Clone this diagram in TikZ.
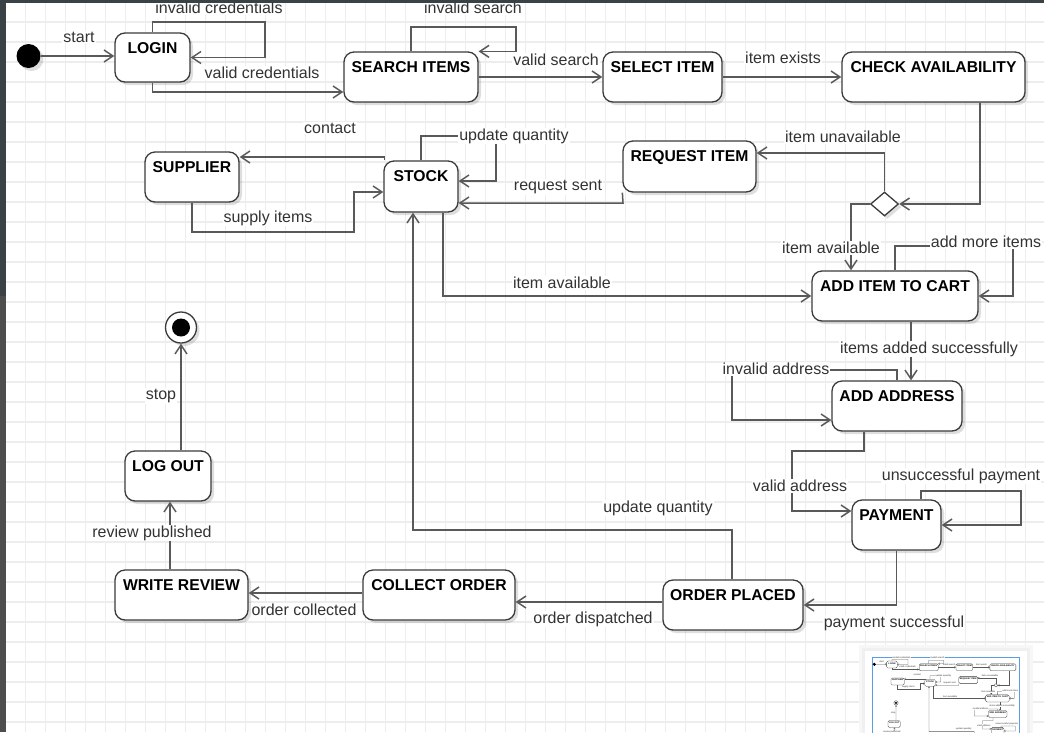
\documentclass[tikz,border=0pt]{standalone}
\usepackage{fontspec}
\setmainfont{Liberation Sans}
\usetikzlibrary{arrows.meta,shapes.geometric,shadows}

\definecolor{edgecol}{HTML}{595959}
\definecolor{statedraw}{HTML}{3B3B3B}
\definecolor{labelcol}{HTML}{333333}
\definecolor{gridcol}{HTML}{EDEDED}
\definecolor{uiframe}{HTML}{3A4246}
\definecolor{uiframelow}{HTML}{4D4D4D}
\definecolor{viewblue}{HTML}{5A9BEA}

% line widths and arrow size, redefined locally for the overview panel
\newcommand\statelw{1.3pt}
\newcommand\edgelw{1.5pt}
\newcommand\arrowlen{9pt}
\newcommand\arrowwid{12pt}

\tikzset{
  stateshadow/.style={drop shadow={shadow xshift=3pt,shadow yshift=-3pt,opacity=0.13,fill=black}},
  state/.style={draw=statedraw, line width=\statelw, fill=white, rounded corners=10pt,
                inner sep=0pt, stateshadow},
  choice/.style={diamond, draw=statedraw, line width=\statelw, fill=white, inner sep=0pt, stateshadow},
  startdot/.style={circle, fill=black, minimum size=24pt, inner sep=0pt, stateshadow},
  endring/.style={circle, draw=statedraw, line width=\statelw, fill=white, minimum size=31pt,
                  inner sep=0pt, stateshadow},
  title/.style={anchor=base, yshift=-21.5pt, inner sep=0pt, text=black,
                font=\bfseries\fontsize{15.7}{18}\selectfont},
  edge/.style={draw=edgecol, line width=\edgelw,
               -{Straight Barb[length=\arrowlen,width=\arrowwid,line width=\edgelw]}},
  lbl/.style={fill=white, inner sep=1pt, text=labelcol, font=\fontsize{16}{19}\selectfont},
  gridline/.style={draw=gridcol, line width=1.6pt},
}

% the whole state chart, drawn once full size and once in the overview panel
\newcommand\statechart{%
  % states
  \node[startdot] (init) at (28.5,56) {};
  \node[state, minimum width=75pt, minimum height=49pt, label={[title]north:LOGIN}] (login) at (152.5,57.5) {};
  \node[state, minimum width=134pt, minimum height=50pt, label={[title]north:SEARCH ITEMS}] (search) at (411,77) {};
  \node[state, minimum width=119pt, minimum height=50pt, label={[title]north:SELECT ITEM}] (select) at (662.5,77) {};
  \node[state, minimum width=183pt, minimum height=50pt, label={[title]north:CHECK AVAILABILITY}] (check) at (933.5,77) {};
  \node[state, minimum width=94pt, minimum height=50pt, label={[title]north:SUPPLIER}] (supplier) at (192,177) {};
  \node[state, minimum width=74pt, minimum height=51pt, label={[title]north:STOCK}] (stock) at (421,186.5) {};
  \node[state, minimum width=133pt, minimum height=51pt, label={[title]north:REQUEST ITEM}] (request) at (689.5,166.5) {};
  \node[choice, minimum width=28pt, minimum height=24pt] (dec) at (884.5,204) {};
  \node[state, minimum width=166pt, minimum height=50pt, label={[title]north:ADD ITEM TO CART}] (cart) at (895,296) {};
  \node[state, minimum width=130pt, minimum height=50pt, label={[title]north:ADD ADDRESS}] (address) at (897,406) {};
  \node[state, minimum width=89pt, minimum height=50pt, label={[title]north:PAYMENT}] (payment) at (896.5,525) {};
  \node[state, minimum width=140pt, minimum height=50pt, label={[title]north:ORDER PLACED}] (order) at (733,605) {};
  \node[state, minimum width=152pt, minimum height=50pt, label={[title]north:COLLECT ORDER}] (collect) at (439,595) {};
  \node[state, minimum width=133pt, minimum height=50pt, label={[title]north:WRITE REVIEW}] (review) at (181.5,595) {};
  \node[state, minimum width=86pt, minimum height=50pt, label={[title]north:LOG OUT}] (logout) at (168,476) {};
  \node[endring] (final) at (181,327.5) {};
  \fill[black] (final.center) circle[radius=9];
  % transitions
  \draw[edge] (init) -- (login.west |- init);
  \draw[edge] (login.north) -- (152.5,22) -- (265,22) |- (login.east);
  \draw[edge] (login.south) |- ([yshift=-15pt]search.west);
  \draw[edge] (search.north) -- (411,27) -- (516,27) |- (search.north east);
  \draw[edge] (search.east) -- (select.west);
  \draw[edge] (select.east) -- (check.west);
  \draw[edge] ([xshift=46.5pt]check.south) |- (dec.east);
  \draw[edge] (dec.north) |- ([yshift=13.5pt]request.east);
  \draw[edge] (dec.west) -| ([xshift=-44pt]cart.north);
  \draw[edge] (request.south west) -- (623,203) -- ([yshift=-16.5pt]stock.east);
  \draw[edge] (stock.north) -- (421,136) -- (496,136) |- ([yshift=5.5pt]stock.east);
  \draw[edge] ([xshift=1pt]stock.north west) |- ([yshift=20pt]supplier.east);
  \draw[edge] (supplier.south) |- (354,232) |- ([yshift=-5.5pt]stock.west);
  \draw[edge] ([xshift=22pt]stock.south) |- (cart.west);
  \draw[edge] (cart.north) -- (895,246) -- (1013,246) |- (cart.east);
  \draw[edge] ([xshift=16pt]cart.south) -- ([xshift=14pt]address.north);
  \draw[edge] (address.north) -- (897,370) -- (732,370) |- ([yshift=-14pt]address.west);
  \draw[edge] ([xshift=-33pt]address.south) -- (864,451) -- (792,451) |- ([yshift=14pt]payment.west);
  \draw[edge] ([xshift=24.5pt]payment.north) -- (921,491) -- (1021,491) |- (payment.east);
  \draw[edge] (payment.south) |- (order.east);
  \draw[edge] ([xshift=-1pt]order.north) |- (413,530) -- ([xshift=-8pt]stock.south);
  \draw[edge] ([yshift=3pt]order.west) -- ([yshift=-7pt]collect.east);
  \draw[edge] ([yshift=2pt]collect.west) -- ([yshift=2pt]review.east);
  \draw[edge] ([xshift=-11.5pt]review.north) -- ([xshift=2pt]logout.south);
  \draw[edge] ([xshift=13pt]logout.north) -- (final);
  % transition labels
  \node[lbl] (t-start) at (79,37) {start};
  \node[lbl] (t-invcred) at (219,8) {invalid credentials};
  \node[lbl] (t-valcred) at (262,73) {valid credentials};
  \node[lbl] (t-invsearch) at (473,8) {invalid search};
  \node[lbl] (t-valsearch) at (556,60) {valid search};
  \node[lbl] (t-exists) at (783,58) {item exists};
  \node[lbl] (t-contact) at (330,128) {contact};
  \node[lbl] (t-updq1) at (514,136) {update quantity};
  \node[lbl] (t-supply) at (268,218) {supply items};
  \node[lbl] (t-unavail) at (843,137) {item unavailable};
  \node[lbl] (t-reqsent) at (558,187) {request sent};
  \node[lbl] (t-avail1) at (831,248) {item available};
  \node[lbl] (t-more) at (986,242) {add more items};
  \node[lbl] (t-avail2) at (562,283) {item available};
  \node[lbl] (t-added) at (929,349) {items added successfully};
  \node[lbl] (t-invaddr) at (776,369) {invalid address};
  \node[lbl] (t-valaddr) at (800,486) {valid address};
  \node[lbl] (t-unsucc) at (961,476) {unsuccessful payment};
  \node[lbl] (t-updq2) at (658,508) {update quantity};
  \node[lbl] (t-paysucc) at (894,623) {payment successful};
  \node[lbl] (t-dispatch) at (593,619) {order dispatched};
  \node[lbl] (t-collected) at (304,610) {order collected};
  \node[lbl] (t-published) at (152,533) {review published};
  \node[lbl] (t-stop) at (161,396) {stop};
}

\begin{document}
\begin{tikzpicture}[x=1pt,y=-1pt]
  \useasboundingbox (0,0) rectangle (1044,732);
  \clip (0,0) rectangle (1044,732);
  \fill[white] (0,0) rectangle (1044,732);

  % background grid
  \foreach \i in {0,...,52} { \draw[gridline] ({5.3+20*\i},0) -- ({5.3+20*\i},732); }
  \foreach \j in {0,...,36} { \draw[gridline] (0,{1.7+20*\j}) -- (1044,{1.7+20*\j}); }

  \statechart

  % overview panel in the lower right corner
  \fill[black!3] (859,645) rectangle (1033,740);
  \fill[black!6] (862,648) rectangle (1030,740);
  \fill[white] (865,651) rectangle (1027,740);
  \draw[viewblue, line width=1pt] (872,657) rectangle (1019,745);
  \begin{scope}[shift={(870.3,656.35)}]
    \begin{scope}[scale=0.142, transform shape, name prefix=mini-]
      \def\statelw{0.3pt}\def\edgelw{0.3pt}\def\arrowlen{1.4pt}\def\arrowwid{1.8pt}
      \tikzset{stateshadow/.style={}, state/.append style={rounded corners=1.4pt}}
      \statechart
    \end{scope}
  \end{scope}

  % window frame edges
  \fill[uiframe] (0,0) rectangle (1044,3.3);
  \fill[uiframe] (0,0) rectangle (6,296);
  \fill[uiframelow] (0,296) rectangle (6,732);
\end{tikzpicture}
\end{document}
